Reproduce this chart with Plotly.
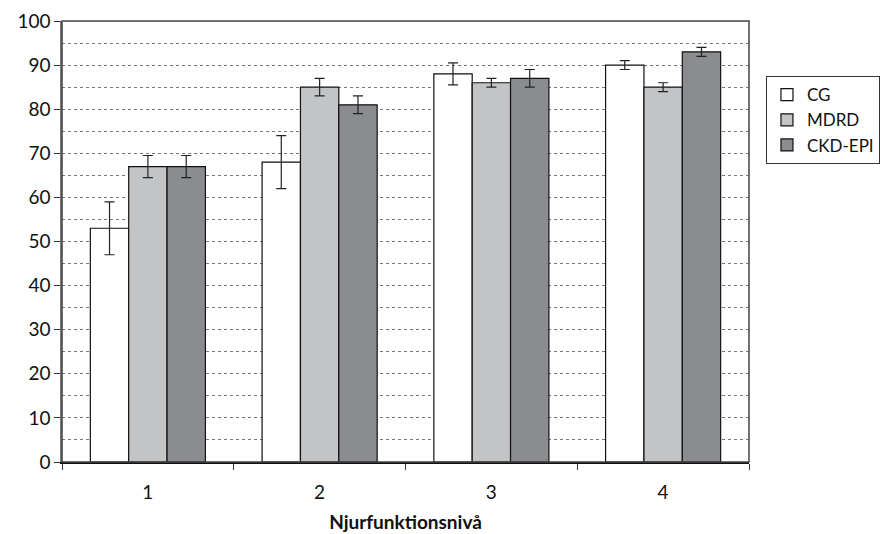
import plotly.graph_objects as go

categories = ["1", "2", "3", "4"]
series_names = ["CG", "MDRD", "CKD-EPI"]
cg = [53, 68, 88, 90]
cg_err = [6, 6, 2.5, 1]
mdrd = [67, 85, 86, 85]
mdrd_err = [2.5, 2, 1, 1]
ckd = [67, 81, 87, 93]
ckd_err = [2.5, 2, 2, 1]
colors = ["#ffffff", "#c3c4c6", "#8b8c90"]

fig = go.Figure()
for name, vals, errs, col in zip(series_names, [cg, mdrd, ckd], [cg_err, mdrd_err, ckd_err], colors):
    fig.add_trace(go.Bar(
        x=categories, y=vals, name=name,
        marker=dict(color=col, line=dict(color="#111111", width=1.2)),
        error_y=dict(type="data", array=errs, visible=True, color="#222222", thickness=1.2, width=5),
    ))

font_family = "Lato, Open Sans, sans-serif"
fig.update_layout(
    width=880, height=534,
    margin=dict(l=62, r=131, t=21, b=72, autoexpand=False),
    paper_bgcolor="white", plot_bgcolor="white",
    barmode="group", bargap=0.33, bargroupgap=0,
    font=dict(family=font_family, size=19, color="#111111"),
    legend=dict(x=1.0247, y=0.875, xanchor="left", yanchor="top",
                bordercolor="#333333", borderwidth=1,
                font=dict(size=17), tracegroupgap=0, itemwidth=30),
    xaxis=dict(
        showline=True, linecolor="#111111", linewidth=1.5, mirror=False,
        tickfont=dict(size=19), automargin=False,
        title=dict(text="<b>Njurfunktionsnivå</b>", font=dict(size=19), standoff=14),
    ),
    yaxis=dict(
        range=[0, 100], tickvals=list(range(0, 101, 10)), automargin=False,
        showline=True, linecolor="#777777", linewidth=1.5,
        ticks="outside", ticklen=6, tickcolor="#333333",
        showgrid=True, gridcolor="#777777", griddash="dot", gridwidth=1,
        minor=dict(tickvals=list(range(5, 100, 10)), showgrid=True, gridcolor="#777777", griddash="dot", gridwidth=1),
        zeroline=False, tickfont=dict(size=19),
    ),
)
fig.update_xaxes(ticks="outside", tickson="boundaries", ticklen=6, tickcolor="#333333",
                 ticklabelstandoff=12)
fig.add_shape(type="rect", xref="paper", yref="paper", x0=0, y0=0, x1=1, y1=1,
              line=dict(color="#444444", width=1.5), layer="above")
fig.write_html("out.html")
